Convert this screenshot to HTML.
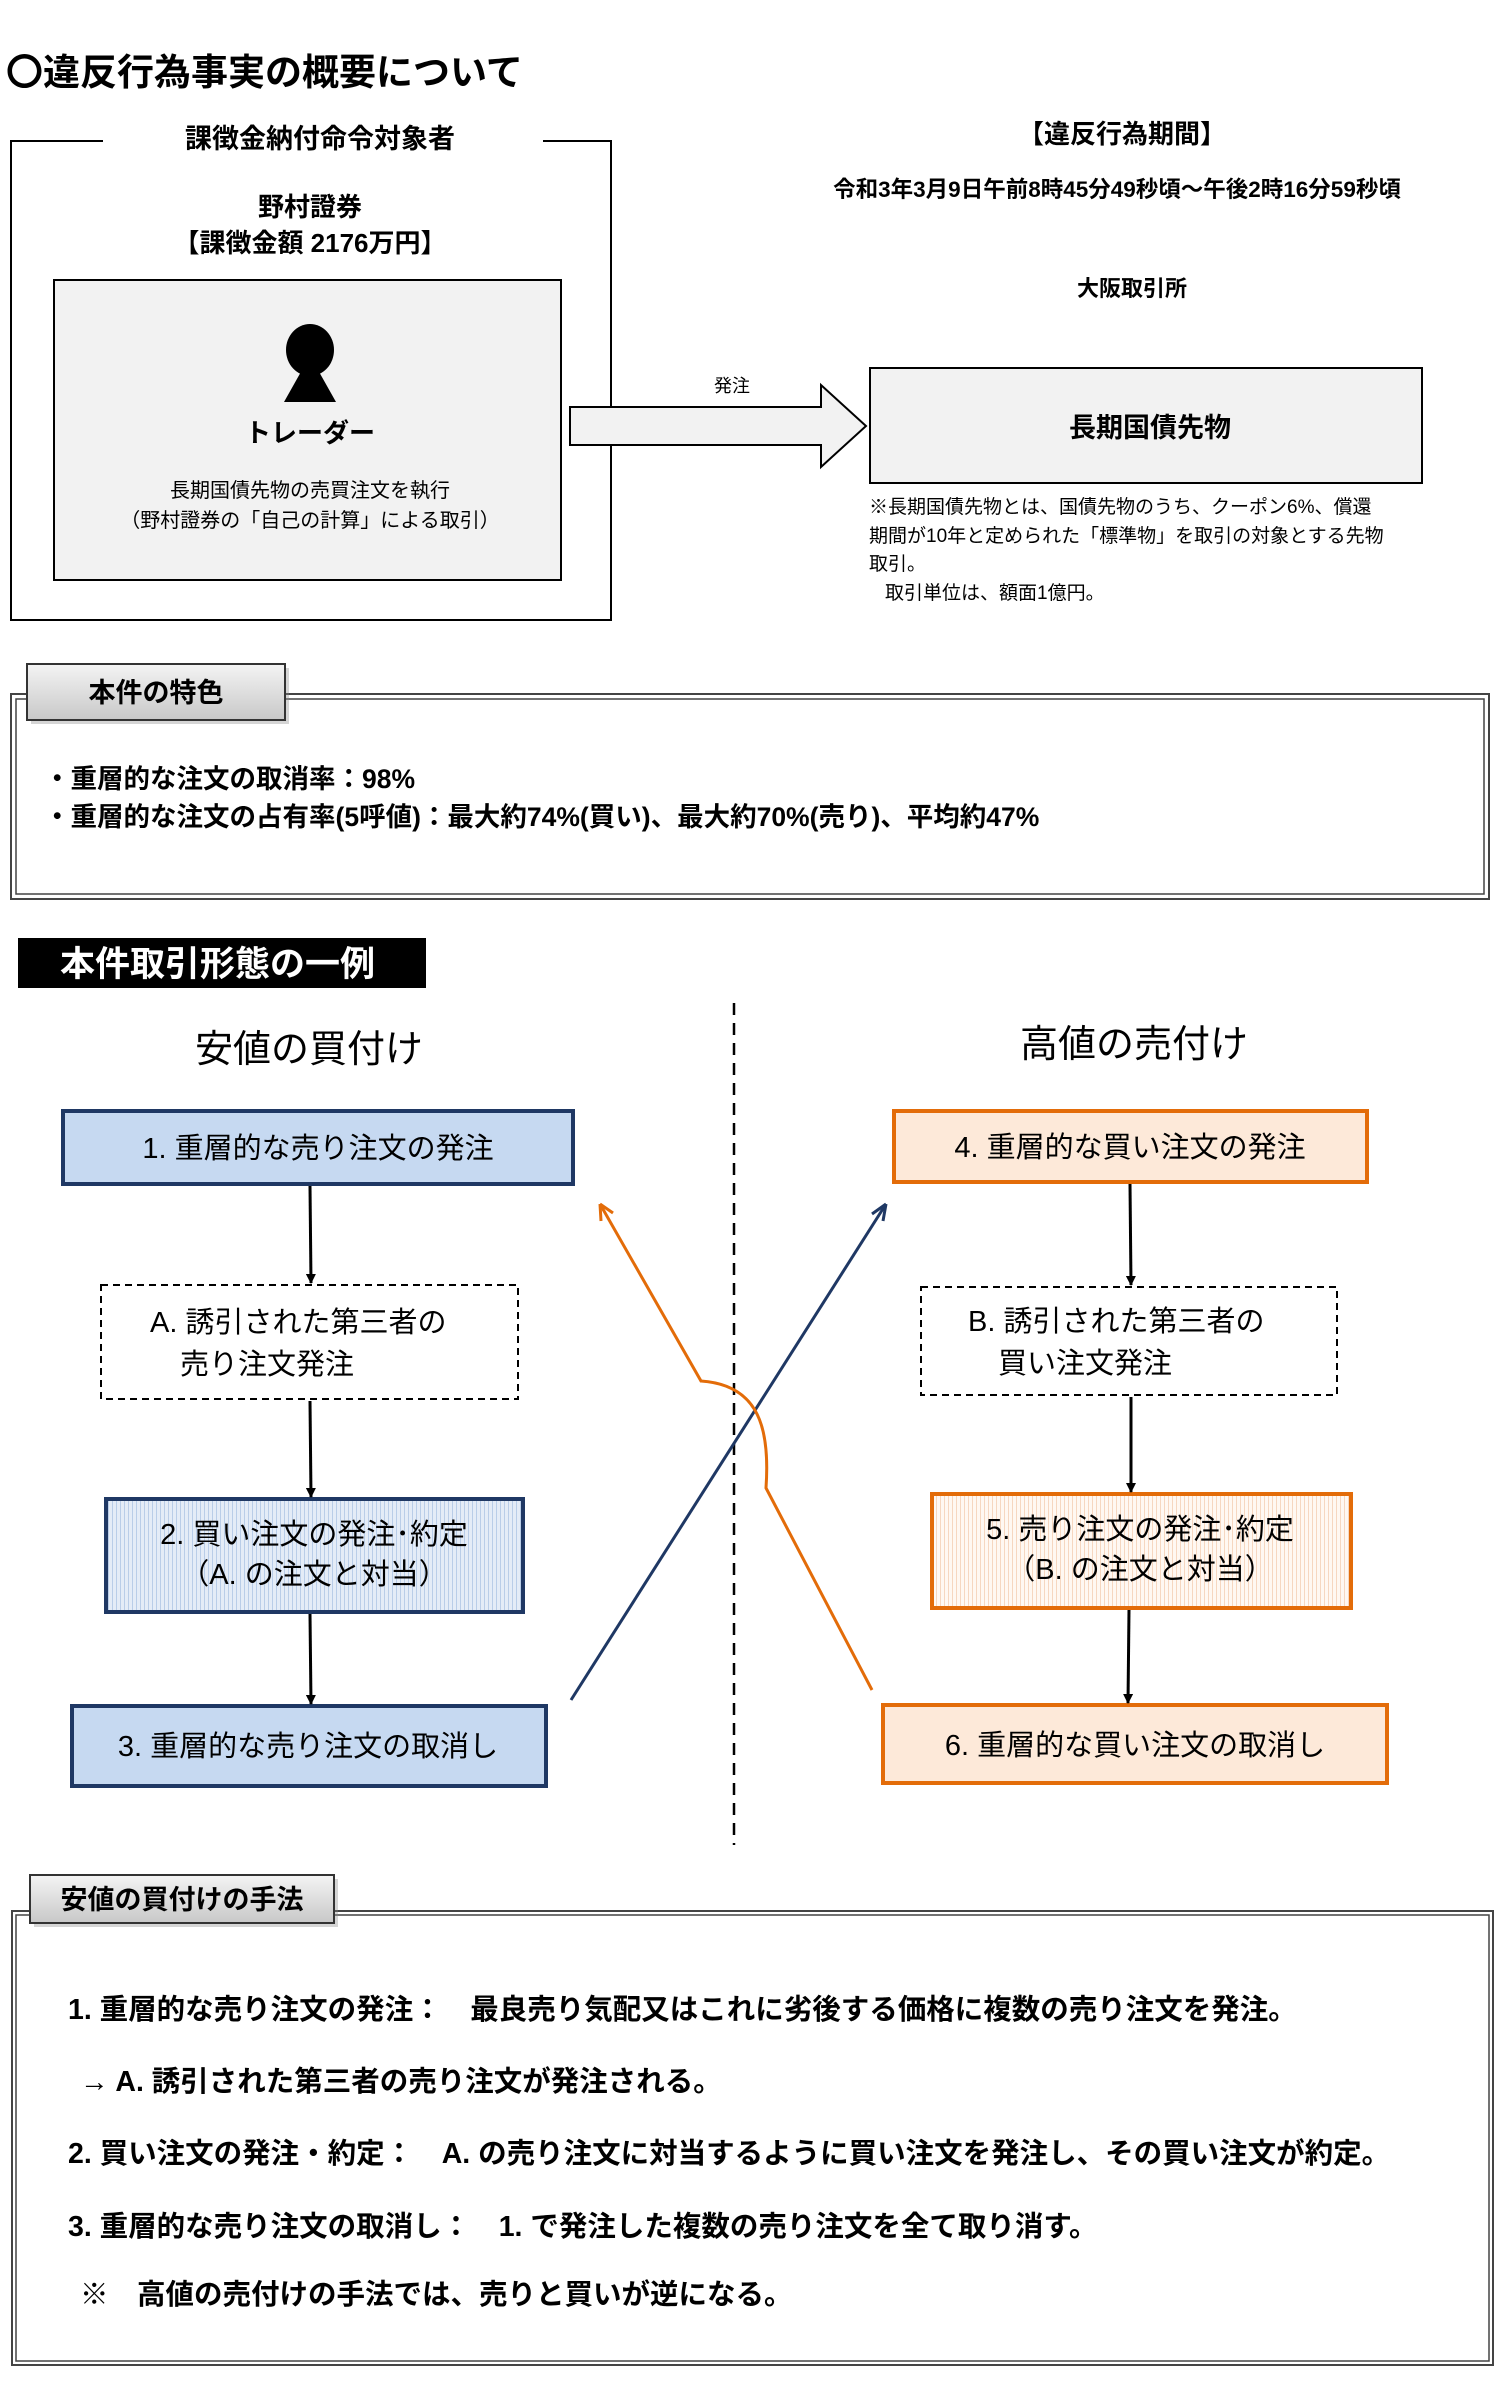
<!DOCTYPE html>
<html><head><meta charset="utf-8"><style>
html,body{margin:0;padding:0;background:#fff;}
svg{display:block;}
text{font-family:"Liberation Sans","Noto Sans CJK JP",sans-serif;}
.b{font-weight:bold;}
</style></head><body>
<svg width="1501" height="2385" viewBox="0 0 1501 2385" xmlns="http://www.w3.org/2000/svg">
<defs>
<linearGradient id="tab" x1="0" y1="0" x2="0" y2="1"><stop offset="0" stop-color="#f4f4f4"/><stop offset="1" stop-color="#c8c8c8"/></linearGradient>
<pattern id="hb" width="4" height="4" patternUnits="userSpaceOnUse"><rect width="4" height="4" fill="#e4ecf7"/><rect width="1" height="4" fill="#b9cde8"/></pattern>
<pattern id="ho" width="4" height="4" patternUnits="userSpaceOnUse"><rect width="4" height="4" fill="#fff8f2"/><rect width="1" height="4" fill="#f6d7c0"/></pattern>
<marker id="ak" markerWidth="10" markerHeight="10" refX="9" refY="5" orient="auto" markerUnits="userSpaceOnUse"><path d="M0,0 L10,5 L0,10 z" fill="#000"/></marker>
</defs>

<text x="6" y="85" font-size="37" class="b">〇違反行為事実の概要について</text>

<!-- left box -->
<path d="M103,141 L11,141 L11,620 L611,620 L611,141 L543,141" fill="none" stroke="#000" stroke-width="2"/>
<text x="320" y="148" font-size="27" class="b" text-anchor="middle">課徴金納付命令対象者</text>
<text x="310" y="216" font-size="26" class="b" text-anchor="middle">野村證券</text>
<text x="310" y="252" font-size="26" class="b" text-anchor="middle">【課徴金額 2176万円】</text>
<rect x="54" y="280" width="507" height="300" fill="#f2f2f2" stroke="#000" stroke-width="2"/>
<ellipse cx="310" cy="350" rx="24" ry="26" fill="#000"/>
<path d="M302,370 L318,370 L336,402 L284,402 Z" fill="#000"/>
<text x="310" y="442" font-size="26" class="b" text-anchor="middle">トレーダー</text>
<text x="310" y="497" font-size="20" text-anchor="middle">長期国債先物の売買注文を執行</text>
<text x="310" y="527" font-size="20" text-anchor="middle">（野村證券の「自己の計算」による取引）</text>

<!-- arrow -->
<polygon points="570,407 821,407 821,385 866,426 821,467 821,445 570,445" fill="#f2f2f2" stroke="#000" stroke-width="2"/>
<text x="732" y="392" font-size="18" text-anchor="middle">発注</text>

<!-- right info -->
<text x="1122" y="143" font-size="26" class="b" text-anchor="middle">【違反行為期間】</text>
<text x="1117" y="197" font-size="22.5" class="b" text-anchor="middle">令和3年3月9日午前8時45分49秒頃～午後2時16分59秒頃</text>
<text x="1132" y="296" font-size="22" class="b" text-anchor="middle">大阪取引所</text>
<rect x="870" y="368" width="552" height="115" fill="#f2f2f2" stroke="#000" stroke-width="2"/>
<text x="1150" y="437" font-size="27" class="b" text-anchor="middle">長期国債先物</text>
<text x="869" y="513" font-size="19">※長期国債先物とは、国債先物のうち、クーポン6%、償還</text>
<text x="869" y="542" font-size="19">期間が10年と定められた「標準物」を取引の対象とする先物</text>
<text x="869" y="570" font-size="19">取引。</text>
<text x="885" y="599" font-size="19">取引単位は、額面1億円。</text>

<!-- 本件の特色 -->
<rect x="11" y="694" width="1478" height="205" fill="none" stroke="#444" stroke-width="2"/>
<rect x="16" y="699" width="1468" height="195" fill="none" stroke="#444" stroke-width="1.5"/>
<rect x="31" y="668" width="258" height="56" fill="#888" opacity="0.35"/>
<rect x="27" y="664" width="258" height="56" fill="url(#tab)" stroke="#333" stroke-width="2"/>
<text x="156" y="702" font-size="27" class="b" text-anchor="middle">本件の特色</text>
<text x="44" y="788" font-size="26.5" class="b">・重層的な注文の取消率：98%</text>
<text x="44" y="826" font-size="26.5" class="b">・重層的な注文の占有率(5呼値)：最大約74%(買い)、最大約70%(売り)、平均約47%</text>

<!-- 本件取引形態の一例 -->
<rect x="18" y="938" width="408" height="50" fill="#000"/>
<text x="60" y="976" font-size="35" class="b" fill="#fff">本件取引形態の一例</text>

<line x1="734" y1="1003" x2="734" y2="1845" stroke="#000" stroke-width="2.5" stroke-dasharray="12,8"/>
<text x="309" y="1062" font-size="38" text-anchor="middle">安値の買付け</text>
<text x="1134" y="1057" font-size="38" text-anchor="middle">高値の売付け</text>

<!-- left boxes -->
<rect x="63" y="1111" width="510" height="73" fill="#c6d9f1" stroke="#1f3864" stroke-width="4"/>
<text x="318" y="1158" font-size="29" text-anchor="middle">1. 重層的な売り注文の発注</text>
<rect x="101" y="1285" width="417" height="114" fill="#fff" stroke="#000" stroke-width="2" stroke-dasharray="7,5"/>
<text x="150" y="1332" font-size="29">A. 誘引された第三者の</text>
<text x="180" y="1374" font-size="29">売り注文発注</text>
<rect x="106" y="1499" width="417" height="113" fill="url(#hb)" stroke="#1f3864" stroke-width="4"/>
<text x="314" y="1544" font-size="29" text-anchor="middle">2. 買い注文の発注･約定</text>
<text x="314" y="1584" font-size="29" text-anchor="middle">（A. の注文と対当）</text>
<rect x="72" y="1706" width="474" height="80" fill="#c6d9f1" stroke="#1f3864" stroke-width="4"/>
<text x="308" y="1756" font-size="29" text-anchor="middle">3. 重層的な売り注文の取消し</text>

<!-- right boxes -->
<rect x="894" y="1111" width="473" height="71" fill="#fde9d9" stroke="#e36c09" stroke-width="4"/>
<text x="1130" y="1157" font-size="29" text-anchor="middle">4. 重層的な買い注文の発注</text>
<rect x="921" y="1287" width="416" height="108" fill="#fff" stroke="#000" stroke-width="2" stroke-dasharray="7,5"/>
<text x="968" y="1331" font-size="29">B. 誘引された第三者の</text>
<text x="998" y="1373" font-size="29">買い注文発注</text>
<rect x="932" y="1494" width="419" height="114" fill="url(#ho)" stroke="#e36c09" stroke-width="4"/>
<text x="1140" y="1539" font-size="29" text-anchor="middle">5. 売り注文の発注･約定</text>
<text x="1140" y="1579" font-size="29" text-anchor="middle">（B. の注文と対当）</text>
<rect x="883" y="1705" width="504" height="78" fill="#fde9d9" stroke="#e36c09" stroke-width="4"/>
<text x="1135" y="1755" font-size="29" text-anchor="middle">6. 重層的な買い注文の取消し</text>

<!-- vertical arrows -->
<line x1="310" y1="1186" x2="311" y2="1283" stroke="#000" stroke-width="3" marker-end="url(#ak)"/>
<line x1="310" y1="1401" x2="311" y2="1497" stroke="#000" stroke-width="3" marker-end="url(#ak)"/>
<line x1="310" y1="1614" x2="311" y2="1704" stroke="#000" stroke-width="3" marker-end="url(#ak)"/>
<line x1="1130" y1="1184" x2="1131" y2="1285" stroke="#000" stroke-width="3" marker-end="url(#ak)"/>
<line x1="1131" y1="1397" x2="1131" y2="1492" stroke="#000" stroke-width="3" marker-end="url(#ak)"/>
<line x1="1129" y1="1610" x2="1128" y2="1703" stroke="#000" stroke-width="3" marker-end="url(#ak)"/>

<!-- cross lines -->
<line x1="571" y1="1700" x2="886" y2="1204" stroke="#1f3864" stroke-width="3"/>
<path d="M886,1204 L872,1214 M886,1204 L883,1221" stroke="#1f3864" stroke-width="3" fill="none"/>
<path d="M872,1690 L766,1488 C770,1430 760,1385 701,1381 L600,1204" fill="none" stroke="#e36c09" stroke-width="3"/>
<path d="M600,1204 L601,1221 M600,1204 L613,1213" stroke="#e36c09" stroke-width="3" fill="none"/>

<!-- bottom section -->
<rect x="12" y="1911" width="1481" height="454" fill="none" stroke="#444" stroke-width="2"/>
<rect x="16" y="1915" width="1473" height="446" fill="none" stroke="#444" stroke-width="1.5"/>
<rect x="34" y="1879" width="304" height="48" fill="#888" opacity="0.35"/>
<rect x="30" y="1875" width="304" height="48" fill="url(#tab)" stroke="#333" stroke-width="2"/>
<text x="182" y="1909" font-size="27" class="b" text-anchor="middle">安値の買付けの手法</text>
<text x="68" y="2019" font-size="28.5" class="b">1.  重層的な売り注文の発注：　最良売り気配又はこれに劣後する価格に複数の売り注文を発注。</text>
<text x="80" y="2091" font-size="28.5" class="b">→ A.  誘引された第三者の売り注文が発注される。</text>
<text x="68" y="2163" font-size="28.5" class="b">2.  買い注文の発注・約定：　A.  の売り注文に対当するように買い注文を発注し、その買い注文が約定。</text>
<text x="68" y="2236" font-size="28.5" class="b">3.  重層的な売り注文の取消し：　1.  で発注した複数の売り注文を全て取り消す。</text>
<text x="80" y="2304" font-size="28.5" class="b">※　高値の売付けの手法では、売りと買いが逆になる。</text>
</svg>
</body></html>
